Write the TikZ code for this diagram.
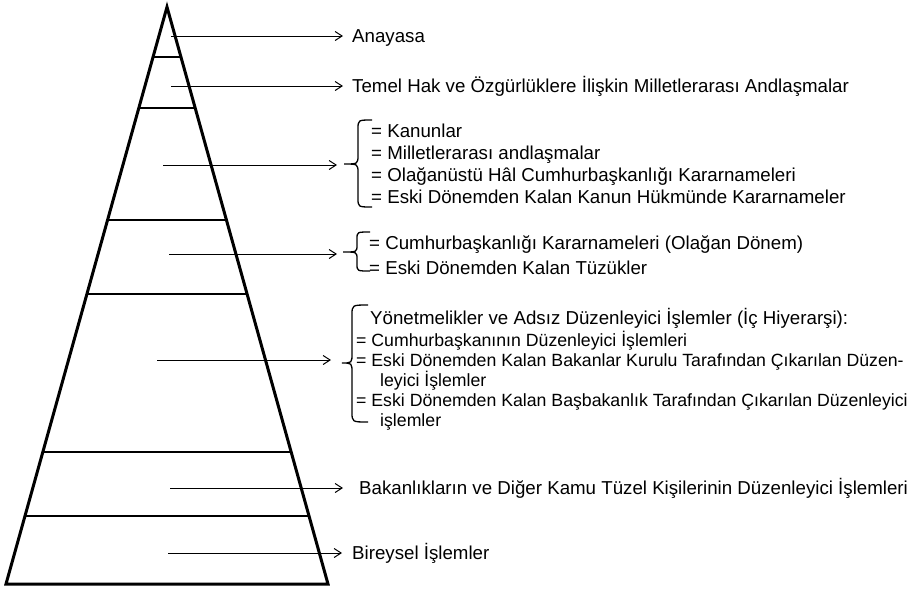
\documentclass[tikz,border=0pt]{standalone}
\usepackage{fontspec}
\setmainfont{Liberation Sans}
\usetikzlibrary{calc,arrows.meta}
\newcommand{\mybrace}[7]{% xr, xv, xt, ytop, ymid, ybot, r
  \draw[brc] (#1,#4) .. controls (#2,#4) .. (#2,#4+#7) -- (#2,#5-#7)
    .. controls (#2,#5) .. (#3,#5) .. controls (#2,#5) .. (#2,#5+#7)
    -- (#2,#6-#7) .. controls (#2,#6) .. (#1,#6);}
\begin{document}
\begin{tikzpicture}[x=1pt,y=-1pt,
  pyr/.style={line width=3pt,line join=miter},
  div/.style={line width=1.3pt},
  arr/.style={line width=1pt,-{Straight Barb[length=7pt,width=9pt,line width=1pt]}},
  brc/.style={line width=1.3pt},
  lbl/.style={anchor=base west,inner sep=0pt,font=\fontsize{18.7}{21}\selectfont},
  sml/.style={anchor=base west,inner sep=0pt,font=\fontsize{17.7}{20}\selectfont}]
\useasboundingbox (0,0) rectangle (916,590);
% pyramid
\coordinate (apex) at (167,7);
\coordinate (bl) at (6,584);
\coordinate (br) at (328,584);
\draw[pyr] (apex) -- (bl) -- (br) -- cycle;
\foreach \f in {0.0867,0.1750,0.3692,0.4974,0.7712,0.8821}
  \draw[div] ($(apex)!\f!(bl)$) -- ($(apex)!\f!(br)$);
% arrow starts
\coordinate (s1) at (171,36);
\coordinate (s2) at (171,86);
\coordinate (s3) at (163,165);
\coordinate (s4) at (169,254);
\coordinate (s5) at (157,360);
\coordinate (s6) at (170,488);
\coordinate (s7) at (168,553);
% single labels
\node[lbl] (t1) at (352,42) {Anayasa};
\node[lbl] (t2) at (352,92) {Temel Hak ve Özgürlüklere İlişkin Milletlerarası Andlaşmalar};
\node[lbl] (t6) at (359,494) {Bakanlıkların ve Diğer Kamu Tüzel Kişilerinin Düzenleyici İşlemleri};
\node[lbl] (t7) at (352,559) {Bireysel İşlemler};
\draw[arr,shorten >=9pt] (s1) -- (s1 -| t1.west);
\draw[arr,shorten >=9pt] (s2) -- (s2 -| t2.west);
\draw[arr,shorten >=16pt] (s6) -- (s6 -| t6.west);
\draw[arr,shorten >=10pt] (s7) -- (s7 -| t7.west);
% block 1
\node[lbl] (k1) at (371,137) {= Kanunlar};
\node[lbl] (k2) at (371,159) {= Milletlerarası andlaşmalar};
\node[lbl] (k3) at (371,181) {= Olağanüstü Hâl Cumhurbaşkanlığı Kararnameleri};
\node[lbl] (k4) at (371,203) {= Eski Dönemden Kalan Kanun Hükmünde Kararnameler};
\coordinate (b1) at (344,164);
\mybrace{372}{358}{344}{120}{164}{207}{9}
\draw[arr,shorten >=7pt] (s3) -- (s3 -| b1);
% block 2
\node[lbl] (c1) at (369,249) {= Cumhurbaşkanlığı Kararnameleri (Olağan Dönem)};
\node[lbl] (c2) at (369,274) {= Eski Dönemden Kalan Tüzükler};
\coordinate (b2) at (343,252);
\mybrace{370}{357}{343}{232}{252}{271}{7}
\draw[arr,shorten >=6pt] (s4) -- (s4 -| b2);
% block 3
\node[lbl] (y0) at (370,324) {Yönetmelikler ve Adsız Düzenleyici İşlemler (İç Hiyerarşi):};
\node[sml] (y1) at (356,346) {= Cumhurbaşkanının Düzenleyici İşlemleri};
\node[sml] (y2) at (356,366) {= Eski Dönemden Kalan Bakanlar Kurulu Tarafından Çıkarılan Düzen-};
\node[sml] (y3) at (380,386) {leyici İşlemler};
\node[sml] (y4) at (356,406) {= Eski Dönemden Kalan Başbakanlık Tarafından Çıkarılan Düzenleyici};
\node[sml] (y5) at (380,426) {işlemler};
\coordinate (b3) at (342,363);
\mybrace{368}{352}{342}{305}{363}{422}{10}
\draw[arr,shorten >=11pt] (s5) -- (s5 -| b3);
\end{tikzpicture}
\end{document}
